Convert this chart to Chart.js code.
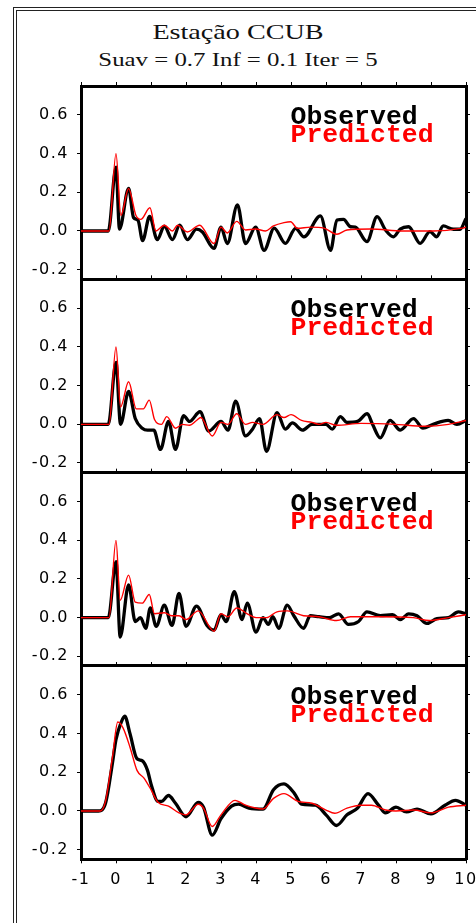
<!DOCTYPE html>
<html>
<head>
<meta charset="utf-8">
<script src="https://cdn.jsdelivr.net/npm/chart.js@4.4.0/dist/chart.umd.min.js"></script>
<style>
body { margin: 0; background: #fff; }
#page { position: relative; width: 476px; height: 923px; overflow: hidden; background: #fff; }
#page canvas { position: absolute; left: 0; top: 0; }
.frame { position: absolute; border: 1px solid #222; width: 700px; height: 1100px; }
.ttl { position: absolute; left: 0; width: 476px; text-align: center; font-family: "Liberation Serif", "Times New Roman", serif;
       color: #111; white-space: nowrap; line-height: 1; }
</style>
</head>
<body>
<div id="page">
  <div class="frame" style="left:13px;top:7px"></div>
  <div class="frame" style="left:16px;top:10px"></div>
  <div class="ttl" id="title" style="top:22px;font-size:21px;transform:scaleX(1.34)"></div>
  <div class="ttl" id="subtitle" style="top:51px;font-size:18px;transform:scaleX(1.38)"></div>
  <canvas id="p1" width="476" height="923"></canvas>
  <canvas id="p2" width="476" height="923"></canvas>
  <canvas id="p3" width="476" height="923"></canvas>
  <canvas id="p4" width="476" height="923"></canvas>
</div>
<script>
const titleText = "Estação CCUB";
const subtitleText = "Suav = 0.7 Inf = 0.1 Iter = 5";
const seriesNames = ["Observed", "Predicted"];
const xTicks = [-1, 0, 1, 2, 3, 4, 5, 6, 7, 8, 9, 10];
const yTicks = [-0.2, 0, 0.2, 0.4, 0.6];

// [time, amplitude]
const obs1 = [[-1,0],[-0.22,0],[0,0.33],[0.1,0.01],[0.36,0.22],[0.5,0.07],[0.63,0.055],[0.76,-0.05],[0.96,0.075],[1.18,-0.045],
  [1.38,0.025],[1.61,-0.045],[1.82,0.03],[2.04,-0.045],[2.3,0.01],[2.47,-0.005],[2.8,-0.09],[3.0,0.02],[3.18,-0.065],[3.47,0.135],
  [3.7,-0.065],[3.99,0.02],[4.23,-0.1],[4.52,0.015],[4.84,-0.064],[5.13,0.014],[5.37,-0.03],[5.84,0.078],[6.13,-0.1],[6.31,0.057],
  [6.5,0.06],[6.7,0.022],[6.84,0.02],[7.17,-0.055],[7.46,0.074],[7.7,0.005],[7.93,-0.03],[8.12,0.01],[8.36,0.022],[8.69,-0.064],
  [8.97,-0.003],[9.16,-0.03],[9.35,0.026],[9.64,0.009],[9.83,0.009],[10,0.065]];
const pred1 = [[-1,0],[-0.2,0],[0,0.40],[0.14,0.08],[0.36,0.22],[0.57,0.08],[0.71,0.06],[0.97,0.12],[1.14,0.0],[1.38,0.03],
  [1.61,0.0],[1.76,0.03],[2.04,-0.005],[2.39,0.03],[2.8,-0.065],[3.0,0.02],[3.18,-0.01],[3.45,0.05],[3.7,0.005],[3.99,0.01],
  [4.27,0.0],[4.5,0.026],[4.8,0.043],[4.99,0.048],[5.18,0.014],[5.56,0.02],[5.94,0.015],[6.31,-0.017],[6.6,0.005],[7.27,0.01],
  [8.2,0.0],[9.06,0.0],[9.9,0.015],[10,0.02]];

const obs2 = [[-1,0],[-0.22,0],[0,0.32],[0.13,0.0],[0.36,0.17],[0.55,0.03],[0.75,-0.02],[0.9,-0.03],[1.08,-0.03],[1.27,-0.13],
  [1.5,0.015],[1.7,-0.13],[1.93,0.045],[2.1,0.015],[2.4,0.065],[2.65,-0.035],[3.0,0.015],[3.2,-0.03],[3.42,0.12],[3.7,-0.06],
  [3.9,-0.025],[4.1,0.03],[4.3,-0.14],[4.6,0.06],[4.84,-0.025],[5.04,0.007],[5.33,-0.03],[5.6,0.0],[6.0,0.0],[6.18,-0.025],
  [6.41,0.04],[6.6,0.01],[6.9,0.015],[7.18,0.055],[7.33,0.0],[7.55,-0.07],[7.83,0.02],[8.12,-0.03],[8.5,0.03],[8.77,-0.02],
  [9.06,0.0],[9.49,0.02],[9.74,0.0],[10,0.02]];
const pred2 = [[-1,0],[-0.2,0],[0,0.40],[0.13,0.09],[0.36,0.22],[0.58,0.08],[0.78,0.08],[0.95,0.125],[1.1,0.025],[1.3,0.0],
  [1.45,0.04],[1.7,-0.02],[1.9,0.0],[2.1,-0.005],[2.3,0.02],[2.42,0.035],[2.75,-0.06],[3.0,0.01],[3.2,0.0],[3.45,0.055],
  [3.7,0.0],[3.9,0.01],[4.2,0.0],[4.6,0.05],[4.8,0.035],[5.0,0.05],[5.3,0.02],[5.6,0.01],[5.8,0.0],[6.0,0.01],
  [6.3,-0.005],[7.0,0.005],[8.0,0.0],[8.8,-0.01],[9.5,0.0],[10,0.02]];

const obs3 = [[-1,0],[-0.22,0],[0,0.29],[0.12,-0.1],[0.36,0.17],[0.55,-0.02],[0.7,0.0],[0.85,-0.055],[0.98,0.05],[1.15,-0.045],
  [1.38,0.065],[1.6,-0.04],[1.8,0.125],[2.0,-0.045],[2.3,0.06],[2.6,-0.04],[2.8,-0.065],[3.0,0.015],[3.15,-0.02],[3.38,0.135],
  [3.6,-0.01],[3.75,0.075],[4.0,-0.075],[4.2,0.0],[4.35,-0.035],[4.48,0.005],[4.65,-0.055],[4.89,0.065],[5.08,0.01],[5.36,-0.055],
  [5.55,0.01],[5.8,0.005],[6.1,0.0],[6.36,0.02],[6.64,-0.035],[6.93,-0.02],[7.17,0.03],[7.55,0.01],[7.9,0.015],[8.13,-0.01],
  [8.36,0.02],[8.6,0.01],[8.88,-0.03],[9.17,-0.005],[9.5,0.0],[9.78,0.03],[10,0.02]];
const pred3 = [[-1,0],[-0.2,0],[0,0.40],[0.12,0.09],[0.36,0.22],[0.55,0.08],[0.75,0.075],[0.95,0.12],[1.1,0.02],[1.38,0.025],
  [1.6,0.01],[1.8,0.01],[2.0,-0.01],[2.35,0.035],[2.8,-0.07],[3.0,0.02],[3.2,0.005],[3.45,0.05],[3.75,0.02],[4.0,0.0],
  [4.3,0.0],[4.6,0.03],[4.9,0.035],[5.36,0.01],[5.8,0.005],[6.3,-0.015],[6.7,0.005],[7.5,0.005],[8.5,0.0],[8.95,-0.015],
  [9.5,0.0],[10,0.015]];

const obs4 = [[-1,0],[-0.5,0],[-0.3,0.04],[-0.1,0.25],[0,0.37],[0.15,0.46],[0.25,0.49],[0.4,0.40],[0.6,0.27],[0.75,0.26],
  [0.9,0.21],[1.0,0.14],[1.2,0.05],[1.3,0.05],[1.5,0.08],[1.7,0.04],[2.0,-0.03],[2.35,0.045],[2.5,0.02],[2.75,-0.125],
  [3.0,-0.04],[3.3,0.025],[3.5,0.035],[3.8,0.015],[4.2,0.01],[4.5,0.11],[4.8,0.14],[5.1,0.09],[5.3,0.035],[5.7,0.03],
  [6.0,-0.02],[6.3,-0.075],[6.6,-0.02],[6.9,0.015],[7.2,0.09],[7.5,0.03],[7.7,-0.01],[8.0,0.02],[8.3,-0.005],[8.6,0.01],
  [9.0,-0.015],[9.4,0.03],[9.7,0.055],[10,0.03]];
const pred4 = [[-1,0],[-0.45,0],[-0.3,0.05],[-0.1,0.28],[0.05,0.46],[0.2,0.43],[0.4,0.33],[0.6,0.21],[0.8,0.17],[1.0,0.11],
  [1.2,0.045],[1.5,0.025],[1.8,-0.01],[2.0,-0.02],[2.35,0.035],[2.5,0.015],[2.75,-0.08],[3.0,-0.02],[3.4,0.055],[3.7,0.03],
  [4.2,0.01],[4.5,0.065],[4.8,0.09],[5.2,0.05],[5.6,0.04],[6.0,0.005],[6.25,-0.012],[6.6,0.015],[7.0,0.03],[7.3,0.03],
  [7.7,0.005],[8.0,0.0],[8.5,0.005],[9.0,-0.01],[9.5,0.02],[10,0.03]];

document.getElementById("title").textContent = titleText;
document.getElementById("subtitle").textContent = subtitleText;

const W = 476, H = 923;
const firstTop = 86, panelH = 193.33;
const tickFont = { family: '"DejaVu Sans", Verdana, sans-serif', size: 16 };

// wider tick text, like the original raster
const spacingPlugin = {
    id: "spacing",
    beforeDraw(chart) { chart.ctx.letterSpacing = "1.5px"; }
};

const seriesLabels = {
    id: "seriesLabels",
    afterDatasetsDraw(chart) {
        const { ctx, chartArea } = chart;
        ctx.save();
        ctx.letterSpacing = "0px";
        ctx.font = 'bold 26.5px "Liberation Mono", "Courier New", monospace';
        ctx.textAlign = "left";
        ctx.textBaseline = "alphabetic";
        chart.data.datasets.forEach((ds, i) => {
            ctx.fillStyle = ds.borderColor;
            ctx.fillText(ds.label, chartArea.left + 209.5, chartArea.top + 38 + i * 18);
        });
        ctx.restore();
    }
};

function fixSize(prop, size) {
    return s => {
        s[prop] = size;
        s.paddingLeft = 0; s.paddingRight = 0; s.paddingTop = 0; s.paddingBottom = 0;
    };
}

function toPoints(arr) {
    return arr.map(p => ({ x: p[0], y: p[1] }));
}

function makePanel(id, idx, obs, pred) {
    const last = idx === 3;
    const top = firstTop + idx * panelH;
    const bottom = top + panelH;
    const xh = last ? 30 : 0;
    const border = { display: true, color: "#000", width: 3 };

    return new Chart(document.getElementById(id), {
        type: "line",
        data: {
            datasets: [{
                label: seriesNames[0],
                data: toPoints(obs),
                borderColor: "#000000",
                borderWidth: 3.3,
                order: 1
            }, {
                label: seriesNames[1],
                data: toPoints(pred),
                borderColor: "#ff0000",
                borderWidth: 1.4,
                order: 0
            }]
        },
        options: {
            responsive: false,
            animation: false,
            events: [],
            layout: { padding: { left: 0, right: 0, top: top - 4, bottom: H - bottom - xh } },
            elements: {
                point: { radius: 0 },
                line: { tension: 0.4, cubicInterpolationMode: "monotone", fill: false }
            },
            plugins: { legend: { display: false }, tooltip: { enabled: false } },
            scales: {
                x: {
                    type: "linear", position: "bottom", min: -1, max: 10,
                    afterBuildTicks: s => { s.ticks = xTicks.map(v => ({ value: v })); },
                    ticks: { display: last, font: tickFont, color: "#000", padding: 7, maxRotation: 0, autoSkip: false,
                             callback: v => String(v) },
                    grid: { display: true, drawOnChartArea: false, drawTicks: last, tickLength: 4, color: "#000", lineWidth: 1 },
                    border: border,
                    afterFit: fixSize("height", xh)
                },
                x2: {
                    type: "linear", position: "top", min: -1, max: 10,
                    afterBuildTicks: s => { s.ticks = xTicks.map(v => ({ value: v })); },
                    ticks: { display: false, autoSkip: false },
                    grid: { display: true, drawOnChartArea: false, drawTicks: true, tickLength: 4, color: "#000", lineWidth: 1 },
                    border: border,
                    afterFit: fixSize("height", 4)
                },
                y: {
                    type: "linear", position: "left", min: -0.25, max: 0.75,
                    afterBuildTicks: s => { s.ticks = yTicks.map(v => ({ value: v })); },
                    ticks: { font: tickFont, color: "#000", padding: 8, autoSkip: false,
                             callback: v => v.toFixed(1) },
                    grid: { display: true, drawOnChartArea: false, drawTicks: true, tickLength: 4, color: "#000", lineWidth: 1 },
                    border: border,
                    afterFit: fixSize("width", 81)
                },
                y2: {
                    type: "linear", position: "right", min: -0.25, max: 0.75,
                    afterBuildTicks: s => { s.ticks = yTicks.map(v => ({ value: v })); },
                    ticks: { display: false, autoSkip: false },
                    grid: { display: true, drawOnChartArea: false, drawTicks: true, tickLength: 4, color: "#000", lineWidth: 1 },
                    border: border,
                    afterFit: fixSize("width", W - 466)
                }
            }
        },
        plugins: [spacingPlugin, seriesLabels]
    });
}

makePanel("p1", 0, obs1, pred1);
makePanel("p2", 1, obs2, pred2);
makePanel("p3", 2, obs3, pred3);
makePanel("p4", 3, obs4, pred4);
</script>
</body>
</html>
